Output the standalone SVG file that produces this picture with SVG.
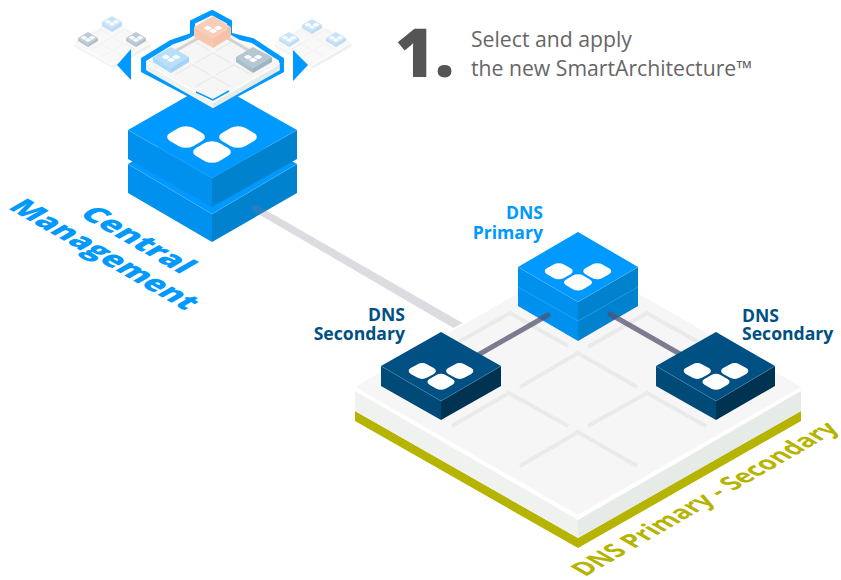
<svg xmlns="http://www.w3.org/2000/svg" xmlns:xlink="http://www.w3.org/1999/xlink" width="841" height="580" viewBox="0 0 841 580">
<style>
text{font-family:"Open Sans","Noto Sans","Liberation Sans",sans-serif}
.lbl{font-size:17.6px;font-weight:700}
.intro{font-size:21.2px;fill:#666}
.bl{fill:#09f}.bll{fill:#0090ee}.blr{fill:#0082cf}
.nv{fill:#005083}.nvl{fill:#004a78}.nvr{fill:#003352}
.edge{fill:none;stroke-width:.6;opacity:.6}
.tile{fill:#fff}
</style>
<defs>
<g id="tiles">
<rect class="tile" x="-11.5" y="-11.5" width="23" height="23" rx="7" transform="translate(-26,-5) matrix(1 .574 -1 .574 0 0)"/>
<rect class="tile" x="-11.5" y="-11.5" width="23" height="23" rx="7" transform="translate(26,-5) matrix(1 .574 -1 .574 0 0)"/>
<rect class="tile" x="-11.5" y="-11.5" width="23" height="23" rx="7" transform="translate(0,10) matrix(1 .574 -1 .574 0 0)"/>
</g>
<g id="slab">
<polygon points="-223,0 0,-128 223,0 0,128" fill="#f6f6f6"/>
<polygon points="-223,0 0,128 223,0 223,4 0,133 -223,4" fill="#fff"/>
<polygon points="-223,4 0,133 0,151 -223,24" fill="#f0f2f0"/>
<polygon points="223,4 0,133 0,151 223,24" fill="#e7ebe8"/>
</g>
<g id="grid" fill="none" stroke="#e8ebe8" stroke-width="4">
<polyline points="-121,-44 -68,-74 -10,-41"/>
<polyline points="10,-40 69,-74 127,-41"/>
<polyline points="-58,0 0,-34 59,0"/>
<polyline points="-126,39 -69,6 -10,39"/>
<polyline points="10,39 69,6 128,39"/>
<polyline points="-58,79 0,45 59,79"/>
</g>
</defs>

<g id="platform">
<polygon points="355,411 578,538 801,411 801,421 578,548 355,421" fill="#b5b400"/>
<use xlink:href="#slab" href="#slab" transform="translate(578,387)"/>
<use xlink:href="#grid" href="#grid" transform="translate(578,387)"/>
</g>

<g id="central-management">
<polygon class="bl" points="128,164 212,116 297,164 212,214"/>
<polygon class="bll" points="128,164 212,214 212,242 128,193"/>
<polygon class="blr" points="297,164 212,214 212,242 297,193"/>
<polygon class="bl" points="128,130 212,82 297,130 212,178"/>
<polygon class="bll" points="128,130 212,178 212,207 128,159"/>
<polygon class="blr" points="297,130 212,178 212,207 297,159"/>
<use xlink:href="#tiles" href="#tiles" transform="translate(212,142)"/>
<polyline class="edge" stroke="#5cbcff" points="128,130 212,178 297,130"/>
<polyline class="edge" stroke="#5cbcff" points="128,164 212,214 297,164"/>
</g>

<g id="selector">
<polygon points="212,12.5 229.5,22 229.5,35 252.5,40.5 281.5,59.5 281.5,70.5 213,107 143.5,70.5 143.5,59.5 171,42.5 192.5,35 192.5,22" fill="#fff" stroke="#09f" stroke-width="5"/>
<use xlink:href="#slab" href="#slab" transform="translate(213,63) scale(.3)"/>
<use xlink:href="#grid" href="#grid" transform="translate(213,63) scale(.3)"/>
<polyline points="196,92 213,100 229,91" fill="none" stroke="#09f" stroke-width="1.5"/>
<line x1="202" y1="36" x2="172" y2="53" stroke="#d2d2d2" stroke-width="3"/>
<line x1="224" y1="36" x2="253" y2="53" stroke="#d2d2d2" stroke-width="3"/>
<g id="mini-primary">
<polygon fill="#fbcdb8" points="194,27 213,16 231,27 213,38"/>
<polygon fill="#f9c6ae" points="194,27 213,38 213,48 194,37"/>
<polygon fill="#f8c2a8" points="231,27 213,38 213,48 231,37"/>
<use xlink:href="#tiles" href="#tiles" transform="translate(213,29) scale(.2)"/>
</g>
<g id="mini-left">
<polygon fill="#b8dffb" points="153,57 171,47 189,57 171,68"/>
<polygon fill="#aad8f8" points="153,57 171,68 171,73 153,62"/>
<polygon fill="#a5d3f5" points="189,57 171,68 171,73 189,62"/>
<use xlink:href="#tiles" href="#tiles" transform="translate(171,58) scale(.2)"/>
</g>
<g id="mini-right">
<polygon fill="#b5c7d3" points="236,57 253,47 272,57 253,68"/>
<polygon fill="#a9bdca" points="236,57 253,68 253,73 236,62"/>
<polygon fill="#9fb4c3" points="272,57 253,68 253,73 272,62"/>
<use xlink:href="#tiles" href="#tiles" transform="translate(253,58) scale(.2)"/>
</g>
</g>

<g id="option-left">
<use xlink:href="#slab" href="#slab" transform="translate(112.5,42.5) scale(.172)" opacity=".7"/>
<use xlink:href="#grid" href="#grid" transform="translate(112.5,42.5) scale(.172)" opacity=".7"/>
<polygon fill="#c5e4fa" points="102,22 112,16 122,22 112,28"/><polygon fill="#bfe0f8" points="102,22 112,28 112,32 102,26"/><polygon fill="#bbdcf6" points="122,22 112,28 112,32 122,26"/>
<use xlink:href="#tiles" href="#tiles" transform="translate(112,22.5) scale(.16)"/>
<polygon fill="#bccbd6" points="78,38 88,32 98,38 88,44"/><polygon fill="#b5c5d1" points="78,38 88,44 88,47 78,41"/><polygon fill="#aebfcc" points="98,38 88,44 88,47 98,41"/>
<use xlink:href="#tiles" href="#tiles" transform="translate(88,38.5) scale(.16)"/>
<polygon fill="#bccbd6" points="126,38 136,32 146,38 136,44"/><polygon fill="#b5c5d1" points="126,38 136,44 136,47 126,41"/><polygon fill="#aebfcc" points="146,38 136,44 136,47 146,41"/>
<use xlink:href="#tiles" href="#tiles" transform="translate(136,38.5) scale(.16)"/>
</g>
<g id="option-right">
<use xlink:href="#slab" href="#slab" transform="translate(313,42.5) scale(.172)" opacity=".7"/>
<use xlink:href="#grid" href="#grid" transform="translate(313,42.5) scale(.172)" opacity=".7"/>
<polygon fill="#c5e4fa" points="302,25 312,19 322,25 312,31"/><polygon fill="#bfe0f8" points="302,25 312,31 312,34 302,28"/><polygon fill="#bbdcf6" points="322,25 312,31 312,34 322,28"/>
<use xlink:href="#tiles" href="#tiles" transform="translate(312,25.5) scale(.16)"/>
<polygon fill="#c5e4fa" points="279,38 289,32 299,38 289,44"/><polygon fill="#bfe0f8" points="279,38 289,44 289,47 279,41"/><polygon fill="#bbdcf6" points="299,38 289,44 289,47 299,41"/>
<use xlink:href="#tiles" href="#tiles" transform="translate(289,38.5) scale(.16)"/>
<polygon fill="#c5e4fa" points="326,38 336,32 346,38 336,44"/><polygon fill="#bfe0f8" points="326,38 336,44 336,47 326,41"/><polygon fill="#bbdcf6" points="346,38 336,44 336,47 346,41"/>
<use xlink:href="#tiles" href="#tiles" transform="translate(336,38.5) scale(.16)"/>
</g>
<g id="arrows">
<polygon class="bl" points="117,65 131,49 131,80"/>
<polygon class="bl" points="293,50 293,81 308,65"/>
</g>

<g id="dns-primary">
<polygon class="bll" points="518,267 578,302 578,341 518,306"/>
<polygon class="blr" points="638,267 578,302 578,341 638,306"/>
<polygon class="bl" points="518,267 578,232 638,267 578,302"/>
<use xlink:href="#tiles" href="#tiles" transform="translate(578,275) scale(.74)"/>
<polyline class="edge" stroke="#5cbcff" points="518,267 578,302 638,267"/>
<polyline class="edge" stroke="#5cbcff" points="518,287 578,321 638,287"/>
</g>

<g id="connectors">
<path d="M253.3,211 A3.5,3.5 0 0 1 256.7,205 L462.5,323 L453.5,328 Z" fill="#7f7d91" fill-opacity=".28"/>
<line x1="548" y1="315" x2="478" y2="355" stroke="#54526e" stroke-opacity=".75" stroke-width="5" stroke-linecap="round"/>
<line x1="610" y1="314" x2="680" y2="354" stroke="#54526e" stroke-opacity=".75" stroke-width="5" stroke-linecap="round"/>
</g>

<g id="dns-secondary-left">
<polygon class="nvl" points="381,366 441,401 441,420 381,386"/>
<polygon class="nvr" points="501,366 441,401 441,420 501,386"/>
<polygon class="nv" points="381,366 441,332 501,366 441,401"/>
<use xlink:href="#tiles" href="#tiles" transform="translate(441,374.6) scale(.72)"/>
<polyline class="edge" stroke="#5a93b8" points="381,366 441,401 501,366"/>
</g>
<g id="dns-secondary-right">
<polygon class="nvl" points="656,366 716,401 716,420 656,386"/>
<polygon class="nvr" points="775,366 716,401 716,420 775,386"/>
<polygon class="nv" points="656,366 716,332 775,366 716,401"/>
<use xlink:href="#tiles" href="#tiles" transform="translate(716,374.6) scale(.72)"/>
<polyline class="edge" stroke="#5a93b8" points="656,366 716,401 775,366"/>
</g>

<g id="labels">
<text x="395" y="77" font-size="68" font-weight="800" fill="#555">1.</text>
<text class="intro" x="471" y="47">Select and apply</text>
<text class="intro" x="471" y="76">the new SmartArchitecture™</text>
<text class="lbl bl" x="543" y="219" text-anchor="end">DNS</text>
<text class="lbl bl" x="543" y="239" text-anchor="end">Primary</text>
<text class="lbl nv" x="405" y="321" text-anchor="end">DNS</text>
<text class="lbl nv" x="405" y="340" text-anchor="end">Secondary</text>
<text class="lbl nv" x="742" y="322">DNS</text>
<text class="lbl nv" x="742" y="340">Secondary</text>
<text class="bl" transform="matrix(.9 .52 -.866 .5 78 215)" font-size="30" font-weight="800">Central</text>
<text class="bl" transform="matrix(.866 .5 -.866 .5 7 208)" font-size="30" font-weight="800">Management</text>
<text transform="matrix(.866 -.5 .97 .56 585 577)" font-size="23.8" font-weight="700" fill="#b5b400">DNS Primary - Secondary</text>
</g>
</svg>
